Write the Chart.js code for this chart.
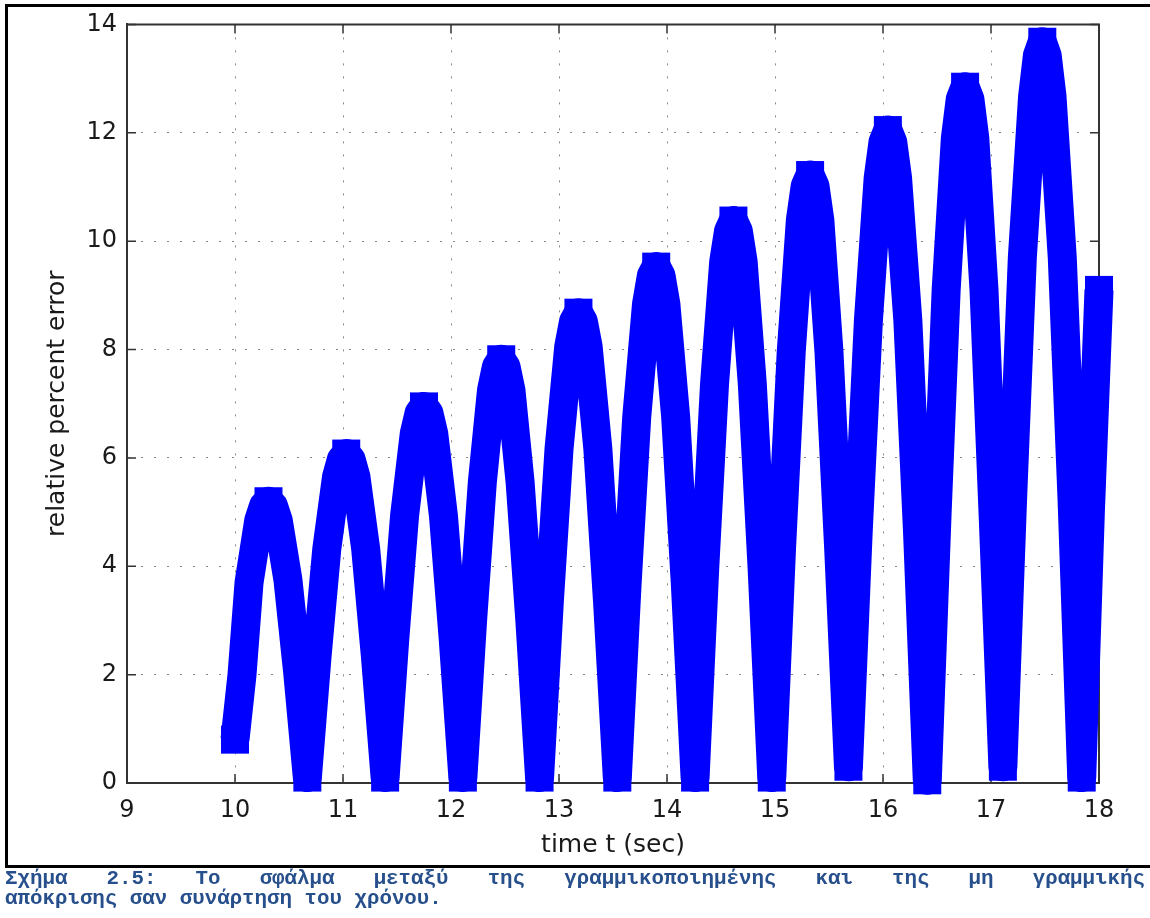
<!DOCTYPE html>
<html>
<head>
<meta charset="utf-8">
<script src="https://cdn.jsdelivr.net/npm/chart.js@4/dist/chart.umd.min.js"></script>
<style>
  body { margin: 0; background: #fff; width: 1150px; height: 918px; position: relative; overflow: hidden; }
  #wrap { position: absolute; left: 0; top: 0; width: 1150px; height: 866px; }
  #frame { position: absolute; left: 5px; top: 4px; width: 1146px; height: 864px; box-sizing: border-box;
           border-left: 3px solid #000; border-top: 3px solid #000; border-bottom: 3px solid #000; pointer-events: none; }
  .cap { position: absolute; left: 5px; width: 1140px; font: bold 20.8px "Liberation Mono", "DejaVu Sans Mono", monospace;
         color: #264f8c; line-height: 20px; white-space: nowrap; }
  #cap1 { top: 869px; text-align: justify; text-align-last: justify; white-space: normal; }
  #cap2 { top: 889px; }
</style>
</head>
<body>
<div id="wrap"><canvas id="errChart" width="1150" height="866"></canvas></div>
<div id="frame"></div>
<div class="cap" id="cap1">Σχήμα 2.5: Το σφάλμα μεταξύ της γραμμικοποιημένης και της μη γραμμικής</div>
<div class="cap" id="cap2">απόκρισης σαν συνάρτηση του χρόνου.</div>
<script>
// tick labels
const xTicks = [9, 10, 11, 12, 13, 14, 15, 16, 17, 18];
const yTicks = [0, 2, 4, 6, 8, 10, 12, 14];

// time t (sec) (one row per arch)
const timeSec = [
  10.00, 10.065, 10.13, 10.22, 10.265, 10.31, 10.355, 10.40, 10.49, 10.58, 10.67,
  10.76, 10.85, 10.94, 10.985, 11.03, 11.075, 11.12, 11.21, 11.30, 11.39,
  11.48, 11.57, 11.66, 11.705, 11.75, 11.795, 11.84, 11.93, 12.02, 12.11,
  12.20, 12.29, 12.375, 12.42, 12.465, 12.51, 12.555, 12.64, 12.73, 12.82,
  12.91, 13.00, 13.09, 13.135, 13.18, 13.225, 13.27, 13.36, 13.45, 13.54,
  13.63, 13.72, 13.81, 13.855, 13.90, 13.945, 13.99, 14.08, 14.17, 14.26,
  14.35, 14.44, 14.525, 14.57, 14.615, 14.66, 14.705, 14.79, 14.88, 14.97,
  15.06, 15.15, 15.235, 15.28, 15.325, 15.37, 15.415, 15.50, 15.59, 15.68,
  15.77, 15.865, 15.955, 16.0, 16.045, 16.09, 16.135, 16.23, 16.32, 16.41,
  16.50, 16.585, 16.67, 16.715, 16.76, 16.805, 16.85, 16.935, 17.02, 17.11,
  17.20, 17.29, 17.385, 17.43, 17.475, 17.52, 17.565, 17.66, 17.75, 17.84,
  17.92, 18.00
];

// relative percent error
const errPct = [
  0.8, 2.0, 3.7, 4.85, 5.12, 5.2, 5.12, 4.85, 3.75, 2.05, 0.1,
  2.34, 4.32, 5.65, 5.97, 6.08, 5.97, 5.65, 4.32, 2.34, 0.1,
  2.67, 4.93, 6.45, 6.83, 6.95, 6.83, 6.45, 4.93, 2.67, 0.1,
  3.0, 5.55, 7.25, 7.68, 7.82, 7.68, 7.25, 5.55, 3.0, 0.1,
  3.33, 6.16, 8.05, 8.52, 8.68, 8.52, 8.05, 6.16, 3.33, 0.1,
  3.66, 6.76, 8.83, 9.36, 9.53, 9.36, 8.83, 6.76, 3.66, 0.1,
  3.99, 7.36, 9.62, 10.19, 10.38, 10.19, 9.62, 7.36, 3.99, 0.1,
  4.31, 7.95, 10.39, 11.02, 11.22, 11.02, 10.39, 7.95, 4.31, 0.3,
  4.62, 8.54, 11.16, 11.83, 12.05, 11.83, 11.16, 8.54, 4.62, 0.05,
  4.93, 9.11, 11.9, 12.62, 12.85, 12.62, 11.9, 9.11, 4.93, 0.3,
  5.25, 9.69, 12.67, 13.43, 13.68, 13.43, 12.67, 9.69, 5.25, 0.1,
  5.0, 9.1
];

const axisFont = '"DejaVu Sans", "Liberation Sans", sans-serif';

// marqueur carre seulement aux sommets, aux creux et aux deux bouts
function squareAt(ctx) {
  const i = ctx.dataIndex;
  const last = errPct.length - 1;
  if (i === 0 || i === last) return 19.8;
  const v = errPct[i];
  const isPeak = v > errPct[i - 1] && v > errPct[i + 1];
  const isTrough = v < errPct[i - 1] && v < errPct[i + 1];
  return (isPeak || isTrough) ? 19.8 : 0;
}

// boite fermee + petites graduations vers l'interieur (style matlab)
const matlabBox = {
  id: 'matlabBox',
  beforeDatasetsDraw(chart) {
    const { ctx, chartArea: a, scales: { x, y } } = chart;
    ctx.save();
    ctx.strokeStyle = '#333';
    ctx.lineWidth = 2;
    ctx.beginPath();
    ctx.moveTo(a.left, a.top);
    ctx.lineTo(a.right, a.top);
    ctx.lineTo(a.right, a.bottom);
    ctx.stroke();
    ctx.lineWidth = 1.5;
    ctx.beginPath();
    xTicks.forEach(v => {
      const px = x.getPixelForValue(v);
      ctx.moveTo(px, a.bottom); ctx.lineTo(px, a.bottom - 9);
      ctx.moveTo(px, a.top); ctx.lineTo(px, a.top + 9);
    });
    yTicks.forEach(v => {
      const py = y.getPixelForValue(v);
      ctx.moveTo(a.left, py); ctx.lineTo(a.left + 9, py);
      ctx.moveTo(a.right, py); ctx.lineTo(a.right - 9, py);
    });
    ctx.stroke();
    ctx.restore();
  }
};

new Chart(document.getElementById('errChart'), {
  type: 'line',
  data: {
    datasets: [{
      data: timeSec.map((t, i) => ({ x: t, y: errPct[i] })),
      borderColor: '#0000ff',
      borderWidth: 29,
      borderJoinStyle: 'round',
      borderCapStyle: 'butt',
      tension: 0,
      pointStyle: 'rect',
      pointRadius: squareAt,
      pointHoverRadius: squareAt,
      pointBackgroundColor: '#0000ff',
      pointBorderWidth: 0,
      clip: false
    }]
  },
  options: {
    responsive: false,
    animation: false,
    devicePixelRatio: 1,
    layout: { padding: { left: 0, right: 51, top: 24, bottom: 0 } },
    plugins: { legend: { display: false }, tooltip: { enabled: false } },
    scales: {
      x: {
        type: 'linear', min: 9, max: 18,
        afterBuildTicks: s => { s.ticks = xTicks.map(v => ({ value: v })); },
        afterFit: s => { s.height = 83; },
        grid: { color: '#888', lineWidth: 1, drawTicks: false },
        border: { display: true, color: '#333', width: 2, dash: [2, 11] },
        ticks: { color: '#1a1a1a', padding: 13, font: { family: axisFont, size: 24 } },
        title: { display: true, text: 'time t (sec)', color: '#1a1a1a',
                 font: { family: axisFont, size: 25 }, padding: { top: 0, bottom: 6 } }
      },
      y: {
        type: 'linear', min: 0, max: 14,
        afterBuildTicks: s => { s.ticks = yTicks.map(v => ({ value: v })); },
        afterFit: s => { s.width = 127; },
        grid: { color: '#888', lineWidth: 1, drawTicks: false },
        border: { display: true, color: '#333', width: 2, dash: [2, 11] },
        ticks: { color: '#1a1a1a', padding: 10, font: { family: axisFont, size: 24 } },
        title: { display: true, text: 'relative percent error', color: '#1a1a1a',
                 font: { family: axisFont, size: 25 }, padding: { top: 42, bottom: 0 } }
      }
    }
  },
  plugins: [matlabBox]
});
</script>
</body>
</html>
